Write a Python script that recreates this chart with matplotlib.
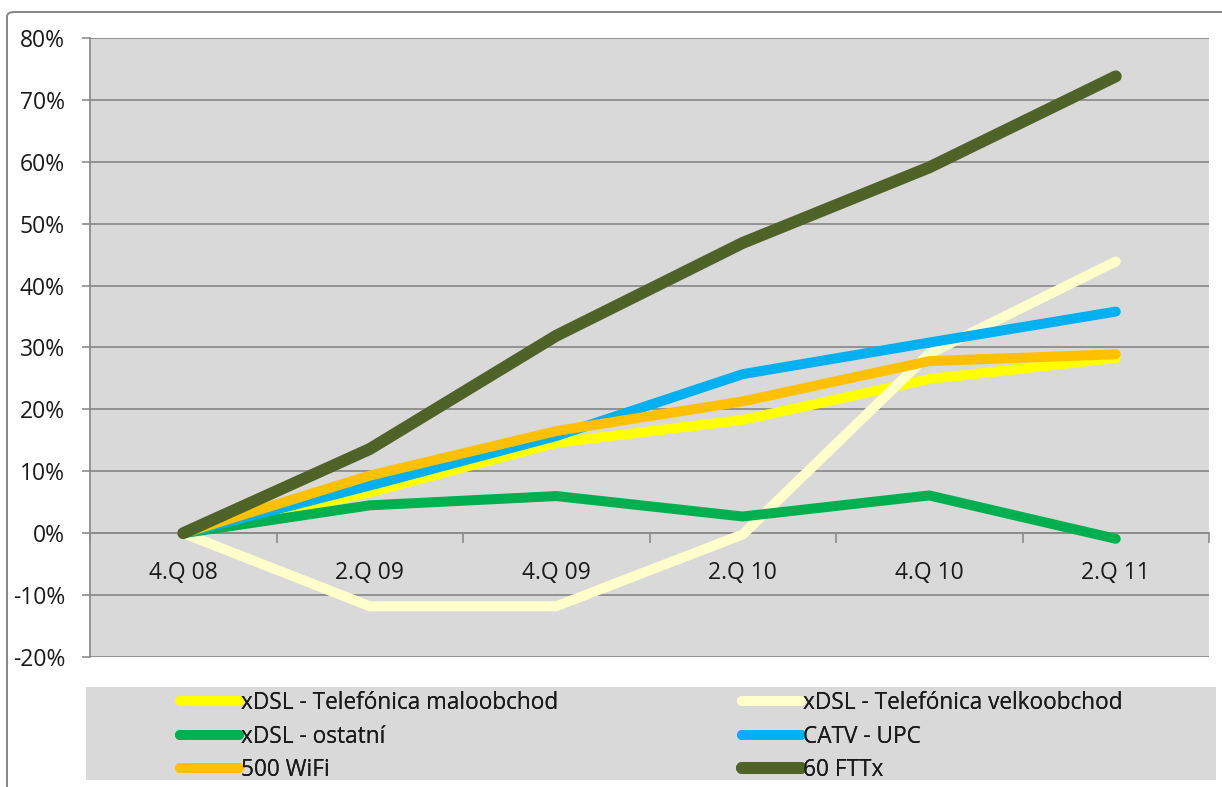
import matplotlib
matplotlib.use("Agg")
import matplotlib.pyplot as plt
from matplotlib.patches import Rectangle, FancyBboxPatch
from matplotlib.ticker import FuncFormatter, FixedLocator

# Quarterly growth of broadband connections by technology (relative to 4.Q 08)
quarters = ["4.Q 08", "2.Q 09", "4.Q 09", "2.Q 10", "4.Q 10", "2.Q 11"]

xdsl_retail = [0.0, 0.066, 0.146, 0.183, 0.249, 0.283]
xdsl_wholesale = [0.0, -0.118, -0.118, -0.002, 0.290, 0.439]
xdsl_other = [0.0, 0.045, 0.060, 0.027, 0.061, -0.009]
catv_upc = [0.0, 0.077, 0.157, 0.257, 0.308, 0.358]
wifi_500 = [0.0, 0.093, 0.165, 0.213, 0.278, 0.289]
fttx_60 = [0.0, 0.136, 0.319, 0.469, 0.591, 0.738]

series_labels = [
    "xDSL - Telefónica maloobchod",
    "xDSL - Telefónica velkoobchod",
    "xDSL - ostatní",
    "CATV - UPC",
    "500 WiFi",
    "60 FTTx",
]
series_values = [xdsl_retail, xdsl_wholesale, xdsl_other, catv_upc, wifi_500, fttx_60]
series_colors = ["#FFFF00", "#FFFFCC", "#00B050", "#00B0F0", "#FFC000", "#4F6228"]
series_widths = [7.2, 7.2, 7.2, 7.2, 7.2, 8.6]

y_ticks = [-0.2, -0.1, 0.0, 0.1, 0.2, 0.3, 0.4, 0.5, 0.6, 0.7, 0.8]

W, H = 1222, 787
plt.rcParams["font.family"] = ["Open Sans", "DejaVu Sans"]
fig = plt.figure(figsize=(W / 100, H / 100), dpi=100)
fig.patch.set_facecolor("white")

# outer chart frame
frame = FancyBboxPatch((7 / W, -0.05), 1.1, 1 - 12 / H + 0.05,
                       boxstyle="round,pad=0,rounding_size=0.006",
                       transform=fig.transFigure, facecolor="none",
                       edgecolor="#868686", linewidth=1.4, zorder=0)
fig.patches.append(frame)

ax = fig.add_axes([90 / W, 1 - 657 / H, (1209 - 90) / W, (657 - 38) / H])
ax.set_facecolor("#D9D9D9")

x = list(range(len(quarters)))
handles = []
for vals, lab, col, lw in zip(series_values, series_labels, series_colors, series_widths):
    (ln,) = ax.plot(x, vals, color=col, lw=lw, label=lab,
                    solid_capstyle="round", solid_joinstyle="round", zorder=3)
    handles.append(ln)

ax.set_xlim(-0.5, len(quarters) - 0.5)
ax.set_ylim(-0.2, 0.8)

# y axis
ax.set_yticks(y_ticks)
ax.yaxis.set_major_formatter(FuncFormatter(lambda v, p: f"{v * 100:.0f}%"))
ax.grid(axis="y", color="#8C8C8C", lw=1.3, zorder=1)
ax.tick_params(axis="y", length=6, width=1.2, color="#8C8C8C", pad=12,
               labelsize=16.5, labelcolor="#1A1A1A")

# x axis crossing at zero, labels beneath
ax.spines["bottom"].set_position(("data", 0))
ax.spines["bottom"].set_color("#8C8C8C")
ax.spines["bottom"].set_linewidth(1.3)
ax.spines["left"].set_color("#8C8C8C")
ax.spines["left"].set_linewidth(1.3)
ax.spines["top"].set_visible(False)
ax.spines["right"].set_visible(False)
ax.set_xticks(x)
ax.set_xticklabels(quarters)
ax.xaxis.set_minor_locator(FixedLocator([i + 0.5 for i in range(-1, len(quarters))]))
ax.tick_params(axis="x", which="major", length=0, pad=20, labelsize=16.5,
               labelcolor="#1A1A1A")
ax.tick_params(axis="x", which="minor", length=7, width=1.2, color="#8C8C8C",
               direction="out")
ax.set_axisbelow(True)

# legend panel
fig.patches.append(Rectangle((86 / W, 1 - 780 / H), (1216 - 86) / W, (780 - 687) / H,
                             transform=fig.transFigure, facecolor="#D9D9D9",
                             edgecolor="none", zorder=0))

order_cols = [[0, 2, 4], [1, 3, 5]]
col_x = [180, 742]
for xs, idx in zip(col_x, order_cols):
    leg = fig.legend([handles[i] for i in idx], [series_labels[i] for i in idx],
                     loc="upper left", bbox_to_anchor=(xs / W, 1 - 691 / H),
                     frameon=False, fontsize=16.3, handlelength=2.6,
                     handletextpad=0.1, labelspacing=0.42, borderpad=0,
                     borderaxespad=0)
    for t in leg.get_texts():
        t.set_color("#1A1A1A")
    fig.add_artist(leg)

fig.savefig("out.png", dpi=100, facecolor="white")
